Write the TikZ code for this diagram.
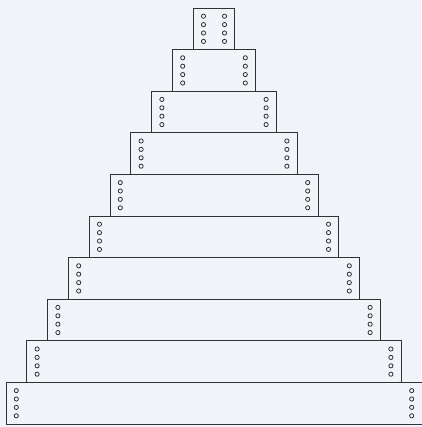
\documentclass[tikz,border=0pt]{standalone}
\usetikzlibrary{positioning,calc}
\definecolor{pagebg}{RGB}{241,244,249}
\definecolor{edgegray}{RGB}{50,50,50}

\begin{document}
\begin{tikzpicture}[x=1pt, y=-1pt,
    tier/.style={draw=edgegray, fill=pagebg, line width=0.8pt, minimum height=41.6pt, inner sep=0pt, outer sep=0pt},
    hole/.style={draw=edgegray, line width=0.8pt}
  ]
  \fill[pagebg] (0,0) rectangle (421,427);
  \useasboundingbox (0,0) rectangle (421,427);

  % stacked tiers, narrowest on top
  \node[tier, minimum width=41.6pt, anchor=north] (t1) at (214,8) {};
  \foreach \i [count=\j from 2] in {1,...,9}
    \node[tier, minimum width={(\j*41.6pt)}, below=0pt of t\i] (t\j) {};

  % two columns of holes in every tier
  \foreach \n in {1,...,10}
    \foreach \dy in {-12.6,-4.2,4.2,12.6} {
      \draw[hole] ($(t\n.west)+(10.3,\dy)$) circle[radius=2.1pt];
      \draw[hole] ($(t\n.east)+(-10.3,\dy)$) circle[radius=2.1pt];
    }
\end{tikzpicture}
\end{document}
